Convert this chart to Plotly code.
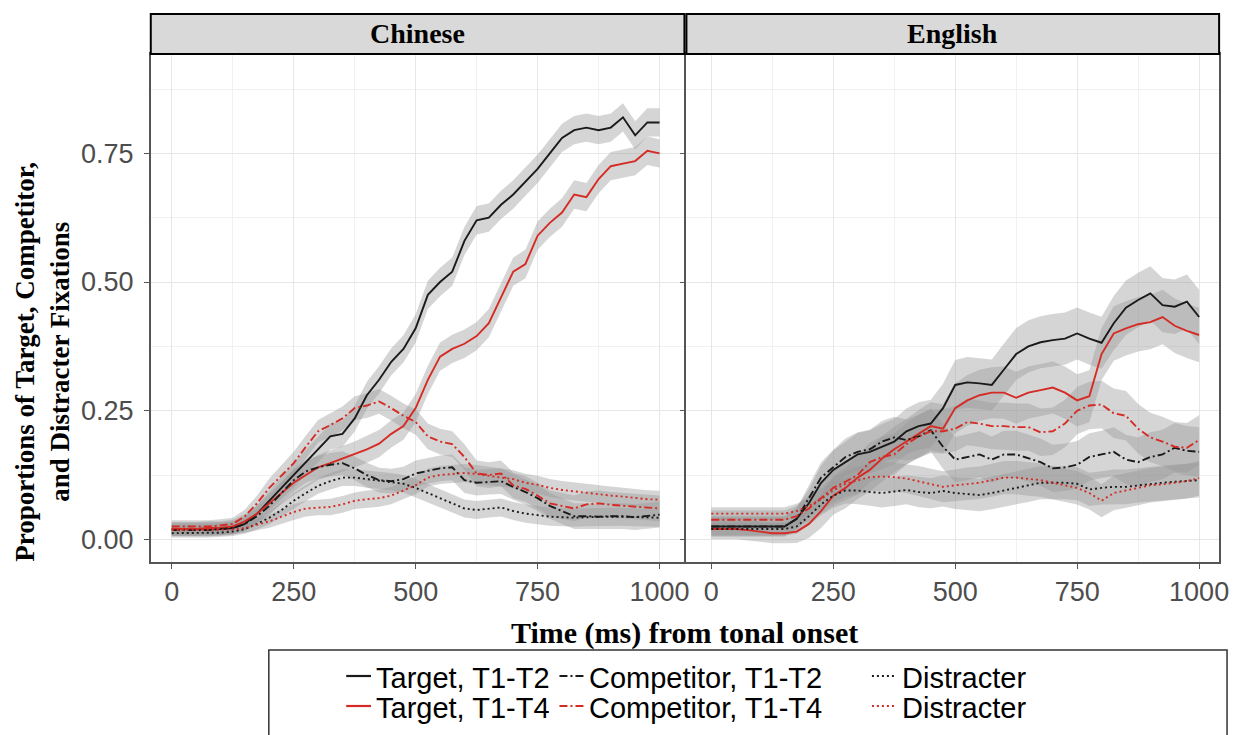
import numpy as np
import plotly.graph_objects as go

W, H = 1243, 735

# ---------------- data ----------------
time_ms = list(range(0, 1001, 25))

# Chinese panel
ch_target_t12 = [0.02, 0.02, 0.02, 0.02, 0.02, 0.022, 0.03, 0.05, 0.075, 0.10, 0.125, 0.15, 0.175, 0.20, 0.205,
                 0.235, 0.28, 0.31, 0.345, 0.37, 0.41, 0.475, 0.50, 0.52, 0.58, 0.62, 0.625, 0.65, 0.67, 0.695,
                 0.72, 0.75, 0.78, 0.795, 0.80, 0.795, 0.80, 0.82, 0.785, 0.81, 0.81]
ch_target_t14 = [0.02, 0.02, 0.02, 0.022, 0.022, 0.025, 0.035, 0.05, 0.07, 0.09, 0.11, 0.125, 0.14, 0.148, 0.157,
                 0.165, 0.175, 0.186, 0.205, 0.22, 0.255, 0.31, 0.355, 0.37, 0.38, 0.395, 0.42, 0.47, 0.52, 0.535,
                 0.59, 0.615, 0.635, 0.67, 0.665, 0.70, 0.725, 0.73, 0.735, 0.755, 0.75]
ch_comp_t12 = [0.018, 0.018, 0.018, 0.018, 0.02, 0.022, 0.03, 0.045, 0.065, 0.09, 0.115, 0.132, 0.14, 0.145, 0.148,
               0.138, 0.125, 0.115, 0.113, 0.117, 0.128, 0.133, 0.138, 0.14, 0.115, 0.11, 0.112, 0.113, 0.102, 0.092,
               0.08, 0.065, 0.055, 0.045, 0.045, 0.044, 0.045, 0.045, 0.043, 0.045, 0.048]
ch_comp_t14 = [0.025, 0.025, 0.025, 0.025, 0.027, 0.03, 0.045, 0.07, 0.10, 0.125, 0.148, 0.18, 0.21, 0.222, 0.235,
               0.255, 0.26, 0.268, 0.255, 0.24, 0.228, 0.20, 0.19, 0.185, 0.16, 0.128, 0.125, 0.128, 0.105, 0.098,
               0.085, 0.07, 0.065, 0.06, 0.068, 0.07, 0.067, 0.065, 0.063, 0.062, 0.06]
ch_dist_t12 = [0.012, 0.012, 0.012, 0.012, 0.013, 0.015, 0.02, 0.03, 0.042, 0.057, 0.075, 0.09, 0.104, 0.113, 0.12,
               0.12, 0.117, 0.114, 0.112, 0.108, 0.10, 0.09, 0.08, 0.07, 0.06, 0.057, 0.06, 0.062, 0.055, 0.05,
               0.047, 0.044, 0.043, 0.042, 0.043, 0.044, 0.044, 0.044, 0.043, 0.042, 0.042]
ch_dist_t14 = [0.018, 0.018, 0.018, 0.018, 0.018, 0.019, 0.022, 0.028, 0.035, 0.044, 0.053, 0.06, 0.062, 0.063, 0.068,
               0.075, 0.078, 0.08, 0.085, 0.095, 0.105, 0.12, 0.125, 0.127, 0.129, 0.127, 0.123, 0.12, 0.117, 0.11,
               0.106, 0.10, 0.096, 0.093, 0.09, 0.088, 0.085, 0.083, 0.08, 0.078, 0.077]

# English panel
en_target_t12 = [0.025, 0.025, 0.025, 0.025, 0.025, 0.025, 0.025, 0.04, 0.07, 0.11, 0.135, 0.15, 0.165, 0.17, 0.18,
                 0.19, 0.21, 0.22, 0.225, 0.255, 0.30, 0.305, 0.303, 0.30, 0.33, 0.36, 0.375, 0.383, 0.387, 0.39,
                 0.40, 0.39, 0.382, 0.42, 0.45, 0.465, 0.478, 0.455, 0.452, 0.462, 0.432]
en_target_t14 = [0.02, 0.02, 0.02, 0.018, 0.015, 0.012, 0.012, 0.015, 0.03, 0.055, 0.085, 0.10, 0.12, 0.135, 0.157,
                 0.175, 0.19, 0.205, 0.22, 0.215, 0.255, 0.27, 0.28, 0.285, 0.285, 0.275, 0.285, 0.29, 0.295, 0.285,
                 0.27, 0.278, 0.36, 0.40, 0.41, 0.418, 0.422, 0.432, 0.415, 0.405, 0.397]
en_comp_t12 = [0.025, 0.025, 0.025, 0.025, 0.025, 0.025, 0.025, 0.04, 0.08, 0.12, 0.14, 0.16, 0.17, 0.175, 0.19,
               0.198, 0.193, 0.20, 0.212, 0.18, 0.155, 0.16, 0.165, 0.155, 0.165, 0.165, 0.158, 0.15, 0.138, 0.14,
               0.145, 0.16, 0.165, 0.17, 0.155, 0.15, 0.16, 0.165, 0.178, 0.172, 0.17]
en_comp_t14 = [0.038, 0.038, 0.038, 0.038, 0.038, 0.038, 0.038, 0.045, 0.06, 0.08, 0.10, 0.112, 0.125, 0.15, 0.16,
               0.165, 0.185, 0.20, 0.21, 0.21, 0.215, 0.228, 0.225, 0.22, 0.22, 0.218, 0.218, 0.208, 0.21, 0.225,
               0.25, 0.26, 0.262, 0.245, 0.24, 0.215, 0.198, 0.19, 0.18, 0.178, 0.193]
en_dist_t12 = [0.02, 0.02, 0.02, 0.02, 0.02, 0.02, 0.02, 0.025, 0.045, 0.068, 0.085, 0.095, 0.095, 0.092, 0.09,
               0.093, 0.096, 0.092, 0.09, 0.094, 0.09, 0.088, 0.086, 0.09, 0.095, 0.10, 0.105, 0.11, 0.11, 0.11,
               0.108, 0.097, 0.10, 0.102, 0.102, 0.105, 0.108, 0.11, 0.112, 0.113, 0.115]
en_dist_t14 = [0.05, 0.05, 0.05, 0.05, 0.05, 0.05, 0.05, 0.055, 0.065, 0.078, 0.095, 0.108, 0.115, 0.121, 0.122,
               0.121, 0.118, 0.113, 0.108, 0.102, 0.105, 0.108, 0.11, 0.115, 0.12, 0.12, 0.117, 0.115, 0.11, 0.105,
               0.10, 0.09, 0.075, 0.09, 0.095, 0.10, 0.105, 0.107, 0.11, 0.113, 0.119]

# ribbon half-width (standard error) read per panel, and relative size per series type
ch_band = [0.012, 0.012, 0.012, 0.012, 0.012, 0.012, 0.013, 0.015, 0.018, 0.02, 0.022, 0.022, 0.022, 0.023, 0.023,
           0.023, 0.024, 0.024, 0.024, 0.024, 0.025, 0.025, 0.025, 0.025, 0.025, 0.025, 0.025, 0.025, 0.025, 0.025,
           0.025, 0.025, 0.025, 0.025, 0.025, 0.025, 0.025, 0.025, 0.025, 0.025, 0.025]
en_band = [0.018, 0.018, 0.018, 0.018, 0.018, 0.018, 0.018, 0.02, 0.025, 0.03, 0.034, 0.036, 0.038, 0.038, 0.04,
           0.04, 0.04, 0.042, 0.042, 0.043, 0.044, 0.045, 0.045, 0.045, 0.046, 0.046, 0.046, 0.046, 0.046, 0.046,
           0.046, 0.046, 0.046, 0.048, 0.048, 0.048, 0.048, 0.048, 0.048, 0.048, 0.048]
band_scale = {"tgt12": 1.1, "tgt14": 1.1, "cmp12": 1.0, "cmp14": 1.0, "dis12": 0.7, "dis14": 0.7}

panel_names = ["Chinese", "English"]
x_ticks = [0, 250, 500, 750, 1000]
y_ticks = [0.00, 0.25, 0.50, 0.75]
y_tick_labels = ["0.00", "0.25", "0.50", "0.75"]

series_labels = {
    "tgt12": "Target, T1-T2", "cmp12": "Competitor, T1-T2", "dis12": "Distracter",
    "tgt14": "Target, T1-T4", "cmp14": "Competitor, T1-T4", "dis14": "Distracter",
}

# ---------------- styling ----------------
BLACK = "#1a1a1a"
RED = "#d52b24"
DASHDOT = "8px,3px,2px,3px"
DOTTED = "2px,3px"
style = {
    "tgt12": (BLACK, "solid"), "tgt14": (RED, "solid"),
    "cmp12": (BLACK, DASHDOT), "cmp14": (RED, DASHDOT),
    "dis12": (BLACK, DOTTED), "dis14": (RED, DOTTED),
}

panels = [
    ("x", "y", {"tgt12": ch_target_t12, "tgt14": ch_target_t14, "cmp12": ch_comp_t12,
                "cmp14": ch_comp_t14, "dis12": ch_dist_t12, "dis14": ch_dist_t14}, ch_band),
    ("x2", "y2", {"tgt12": en_target_t12, "tgt14": en_target_t14, "cmp12": en_comp_t12,
                  "cmp14": en_comp_t14, "dis12": en_dist_t12, "dis14": en_dist_t14}, en_band),
]
order = ["tgt12", "tgt14", "cmp12", "cmp14", "dis12", "dis14"]

fig = go.Figure()
t = np.array(time_ms, dtype=float)
for xa, ya, data, band in panels:
    for k in order:
        v = np.array(data[k])
        s = np.array(band) * band_scale[k]
        fig.add_trace(go.Scatter(
            x=np.concatenate([t, t[::-1]]),
            y=np.concatenate([v + s, (v - s)[::-1]]),
            fill="toself", fillcolor="rgba(150,150,150,0.40)",
            line=dict(width=0), mode="lines", hoverinfo="skip",
            showlegend=False, xaxis=xa, yaxis=ya))
for xa, ya, data, band in panels:
    for k in order:
        col, dash = style[k]
        fig.add_trace(go.Scatter(
            x=time_ms, y=data[k], mode="lines", name=series_labels[k],
            line=dict(color=col, width=1.9, dash=dash),
            showlegend=False, xaxis=xa, yaxis=ya))


def px(x):
    return x / W


def py(y):
    return 1 - y / H


L1, R1, L2, R2 = 152, 690, 692, 1229
TOP, BOT = 54, 562
yr = [-0.044, 0.943]

tick_font = dict(family="Liberation Sans, Arial, sans-serif", size=27, color="#4d4d4d")
grid_major = "#e6e6e6"
grid_minor = "#f1f1f1"

common_x = dict(tickmode="array", tickvals=x_ticks, ticktext=[str(v) for v in x_ticks],
                showgrid=True, gridcolor=grid_major, gridwidth=1,
                minor=dict(tickvals=[125, 375, 625, 875], showgrid=True, gridcolor=grid_minor, gridwidth=1, ticks=""),
                zeroline=False, showline=True, linecolor="#555555", linewidth=1.5, mirror=True,
                ticks="outside", ticklen=5, tickcolor="#555555", tickfont=tick_font)
common_y = dict(range=yr, tickmode="array", tickvals=y_ticks, ticktext=y_tick_labels,
                showgrid=True, gridcolor=grid_major, gridwidth=1,
                minor=dict(tickvals=[0.125, 0.375, 0.625, 0.875], showgrid=True, gridcolor=grid_minor, gridwidth=1, ticks=""),
                zeroline=False, showline=True, linecolor="#555555", linewidth=1.5, mirror=True,
                ticks="outside", ticklen=5, tickcolor="#555555", tickfont=tick_font)

fig.update_layout(
    width=W, height=H, margin=dict(l=0, r=0, t=0, b=0),
    paper_bgcolor="white", plot_bgcolor="white", showlegend=False,
    xaxis=dict(common_x, domain=[px(L1), px(R1)], range=[-43, 1051], anchor="y"),
    xaxis2=dict(common_x, domain=[px(L2), px(R2)], range=[-51, 1041], anchor="y2"),
    yaxis=dict(common_y, domain=[py(BOT), py(TOP)], anchor="x", ticklabelstandoff=5),
    yaxis2=dict(common_y, domain=[py(BOT), py(TOP)], anchor="x2", showticklabels=False),
)

shapes = []
# facet strips
for (a, b) in [(L1, R1), (L2, R2)]:
    shapes.append(dict(type="rect", xref="paper", yref="paper", x0=px(a), x1=px(b), y0=py(TOP), y1=py(14),
                       fillcolor="#d9d9d9", line=dict(color="black", width=2)))
# legend box
shapes.append(dict(type="rect", xref="paper", yref="paper", x0=px(271), x1=px(1237), y0=py(745), y1=py(650),
                   fillcolor="rgba(0,0,0,0)", line=dict(color="#333333", width=1.5)))

title_font = dict(family="Liberation Serif, Times New Roman, serif", size=28, color="black")
ann = []
for name, (a, b) in zip(panel_names, [(L1, R1), (L2, R2)]):
    ann.append(dict(text="<b>%s</b>" % name, xref="paper", yref="paper", x=px((a + b) / 2), y=py(34),
                    showarrow=False, font=title_font, xanchor="center", yanchor="middle"))
ann.append(dict(text="<b>Time (ms) from tonal onset</b>", xref="paper", yref="paper", x=px(690), y=py(633),
                showarrow=False, font=dict(title_font, size=30), xanchor="center", yanchor="middle"))
ann.append(dict(text="<b>Proportions of Target, Competitor,<br>and Distracter Fixations</b>", xref="paper",
                yref="paper", x=px(42), y=py(362), textangle=-90, showarrow=False,
                font=dict(title_font, size=27), xanchor="center", yanchor="middle"))

# legend (two rows x three columns)
leg_font = dict(family="Liberation Sans, Arial, sans-serif", size=29, color="black")
legend_rows = [["tgt12", "cmp12", "dis12"], ["tgt14", "cmp14", "dis14"]]
col_text_x = [379, 594, 909]
row_y = [676, 706]
for r, keys in enumerate(legend_rows):
    for c, k in enumerate(keys):
        col, dash = style[k]
        tx = col_text_x[c]
        shapes.append(dict(type="line", xref="paper", yref="paper", x0=px(tx - 30), x1=px(tx - 5),
                           y0=py(row_y[r]), y1=py(row_y[r]), line=dict(color=col, width=2.2, dash=dash)))
        ann.append(dict(text=series_labels[k], xref="paper", yref="paper", x=px(tx - 2), y=py(row_y[r] + 2),
                        showarrow=False, font=leg_font, xanchor="left", yanchor="middle"))

fig.update_layout(shapes=shapes, annotations=ann)

fig.write_html("out.html")
